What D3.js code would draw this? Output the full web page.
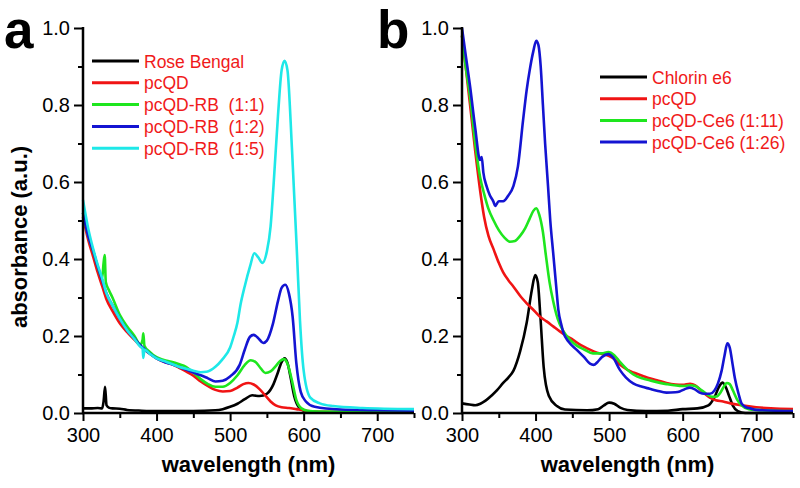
<!DOCTYPE html>
<html><head><meta charset="utf-8">
<script src="https://cdn.jsdelivr.net/npm/d3@7"></script>
<style>
html,body{margin:0;padding:0;background:#fff;}
svg{display:block;font-family:"Liberation Sans",Arial,sans-serif;}
</style></head>
<body>
<script>
// ---------- DATA ----------
const xTicks = [300, 400, 500, 600, 700];
const xMinorTicks = [350, 450, 550, 650, 750];
const yTicks = [0.0, 0.2, 0.4, 0.6, 0.8, 1.0];
const yMinorTicks = [0.1, 0.3, 0.5, 0.7, 0.9];

// Panel a
const legendA = ["Rose Bengal", "pcQD", "pcQD-RB  (1:1)", "pcQD-RB  (1:2)", "pcQD-RB  (1:5)"];
const rbWl  = [300,310,320,326,328,330,332,335,340,350,360,380,400,420,450,480,490,500,510,520,530,540,550,559,564,570,574,578,582,587,593,600,610,620,650,700,750];
const rbAbs = [0.012,0.012,0.013,0.012,0.03,0.068,0.02,0.014,0.012,0.011,0.008,0.006,0.005,0.005,0.005,0.007,0.01,0.016,0.024,0.036,0.046,0.044,0.05,0.075,0.1,0.132,0.142,0.13,0.095,0.045,0.016,0.006,0.003,0.002,0.002,0.002,0.002];

const qdAWl  = [300,307,314,320,326,332,340,350,360,370,380,390,400,410,420,430,440,450,460,470,480,490,500,510,518,525,532,540,548,555,562,570,580,590,600,615,650,750];
const qdAAbs = [0.51,0.45,0.405,0.365,0.33,0.295,0.265,0.233,0.21,0.19,0.17,0.155,0.142,0.133,0.127,0.118,0.108,0.097,0.082,0.07,0.06,0.056,0.057,0.066,0.075,0.078,0.074,0.062,0.045,0.03,0.02,0.015,0.013,0.01,0.007,0.004,0.003,0.003];

const rb11Wl  = [300,307,314,320,326,328,329.5,331,335,340,350,360,370,378,381,382,383.5,390,400,410,420,430,440,450,460,470,480,490,500,510,520,528,535,542,548,555,562,568,573,578,584,590,597,605,620,700,750];
const rb11Abs = [0.52,0.46,0.42,0.38,0.35,0.39,0.41,0.34,0.32,0.30,0.255,0.225,0.2,0.178,0.19,0.207,0.175,0.16,0.145,0.138,0.133,0.127,0.12,0.105,0.088,0.075,0.068,0.068,0.078,0.098,0.125,0.137,0.132,0.115,0.104,0.108,0.122,0.135,0.14,0.128,0.085,0.034,0.012,0.006,0.004,0.003,0.003];

const rb12Wl  = [300,307,314,320,326,332,340,350,360,370,380,390,400,410,420,430,440,450,460,470,480,490,500,513,520,527,532,538,545,550,558,565,570,575,580,585,590,596,603,615,650,700,750];
const rb12Abs = [0.52,0.46,0.42,0.38,0.345,0.31,0.28,0.245,0.215,0.193,0.172,0.155,0.142,0.133,0.127,0.12,0.113,0.105,0.098,0.09,0.082,0.084,0.095,0.125,0.165,0.198,0.203,0.195,0.182,0.188,0.23,0.29,0.325,0.333,0.31,0.25,0.13,0.055,0.03,0.016,0.009,0.007,0.006];

const rb15Wl  = [300,307,314,320,326,332,340,350,360,370,378,381,382,383.5,390,400,410,420,430,440,450,460,468,480,489,500,505,510,514,520,527,533,538,544,550,555,559,565,570,574,578,584,591,595,600,609,622,640,680,750];
const rb15Abs = [0.553,0.48,0.425,0.385,0.35,0.31,0.28,0.245,0.215,0.192,0.172,0.168,0.143,0.165,0.155,0.142,0.135,0.128,0.12,0.115,0.11,0.106,0.107,0.12,0.138,0.17,0.2,0.235,0.28,0.33,0.38,0.415,0.405,0.39,0.42,0.484,0.59,0.77,0.89,0.915,0.89,0.69,0.41,0.24,0.11,0.04,0.025,0.018,0.013,0.01];

// Panel b
const legendB = ["Chlorin e6", "pcQD", "pcQD-Ce6 (1:11)", "pcQD-Ce6 (1:26)"];
const ce6Wl  = [300,310,318,325,332,340,348,356,363,370,379,388,395,399.5,403,406.6,411,418,429,440,470,485,493,500,507,515,525,550,580,600,620,635,643,650,654,658,663,668,675,685,700,750];
const ce6Abs = [0.025,0.022,0.02,0.024,0.032,0.045,0.06,0.078,0.092,0.11,0.16,0.235,0.32,0.358,0.34,0.25,0.12,0.045,0.018,0.009,0.007,0.01,0.02,0.027,0.024,0.014,0.008,0.005,0.006,0.01,0.012,0.02,0.04,0.07,0.079,0.07,0.045,0.02,0.005,0.0,0.0,0.0];

const qdBWl  = [300,305,311,318,324.5,330,336,343,350,356,363,370,380,388,400,406,415,424,433,442,451,461,470,479,490,500,506,515,525,533,545,555,565,578,590,600,610,617,623,630,637,645,655,665,680,700,720,750];
const qdBAbs = [0.98,0.9,0.8,0.68,0.58,0.51,0.46,0.425,0.39,0.365,0.345,0.328,0.302,0.285,0.262,0.25,0.238,0.225,0.212,0.2,0.19,0.177,0.168,0.16,0.153,0.148,0.142,0.125,0.112,0.105,0.097,0.09,0.085,0.078,0.074,0.073,0.076,0.072,0.062,0.05,0.04,0.033,0.03,0.025,0.02,0.015,0.012,0.01];

const ce611Wl  = [300,305,311,318,324.5,330,336,343,350,358,365,372,379,386,392,397,401,405,410,414,419,424,430,438,447,456,466,478,490,499,507,515,525,533,545,555,578,600,610,617,623,632,640,646,652,657,660,664,668,674,680,690,700,750];
const ce611Abs = [0.98,0.9,0.82,0.7,0.614,0.57,0.53,0.5,0.475,0.455,0.445,0.447,0.46,0.48,0.505,0.525,0.532,0.515,0.47,0.41,0.34,0.29,0.245,0.212,0.19,0.175,0.165,0.155,0.155,0.158,0.15,0.132,0.112,0.1,0.09,0.085,0.075,0.07,0.072,0.07,0.063,0.05,0.042,0.043,0.055,0.072,0.078,0.075,0.06,0.035,0.02,0.01,0.008,0.005];

const ce626Wl  = [300,305,311,318,324.5,326.8,329,333.6,338,342.7,345,350,356,363,370,376,383,388,392,397,401,404,407,410,413,417,420,424,428,431,435,438,445,456,466,474,479,484,490,499,505,514.6,523,532.7,545,555,565,578,590,596,603,609.7,616,623,630,637,643,648,653,657,660.7,664,668,671,676,680,686,692,700,750];
const ce626Abs = [1.0,0.93,0.848,0.74,0.657,0.665,0.625,0.588,0.565,0.549,0.538,0.55,0.55,0.565,0.59,0.64,0.76,0.84,0.89,0.94,0.967,0.955,0.9,0.8,0.7,0.588,0.5,0.415,0.33,0.268,0.23,0.208,0.185,0.164,0.145,0.128,0.125,0.132,0.145,0.153,0.145,0.112,0.092,0.077,0.068,0.063,0.058,0.053,0.054,0.056,0.062,0.066,0.062,0.053,0.05,0.05,0.058,0.077,0.11,0.15,0.181,0.17,0.125,0.09,0.05,0.025,0.015,0.012,0.008,0.005];

// ---------- STYLE / LAYOUT ----------
const COLORS = {black:"#000000", red:"#f01414", green:"#1ee61e", blue:"#1414d2", cyan:"#1ee8e8"};
const W = 800, H = 488;
const yTop = 28, yBottom = 413;

const panels = [
  { letter:"a", x0:83, x1:414, letterX:4, yTitle:true,
    series:[
      {wl:rbWl, v:rbAbs, c:COLORS.black},
      {wl:qdAWl, v:qdAAbs, c:COLORS.red},
      {wl:rb11Wl, v:rb11Abs, c:COLORS.green},
      {wl:rb12Wl, v:rb12Abs, c:COLORS.blue},
      {wl:rb15Wl, v:rb15Abs, c:COLORS.cyan}
    ],
    legend: legendA, legX:92, legY:61, legDy:21.8 },
  { letter:"b", x0:462, x1:793, letterX:377, yTitle:false,
    series:[
      {wl:ce6Wl, v:ce6Abs, c:COLORS.black},
      {wl:qdBWl, v:qdBAbs, c:COLORS.red},
      {wl:ce611Wl, v:ce611Abs, c:COLORS.green},
      {wl:ce626Wl, v:ce626Abs, c:COLORS.blue}
    ],
    legend: legendB, legX:600, legY:77, legDy:21.7 }
];

const svg = d3.select("body").append("svg").attr("width", W).attr("height", H);
svg.append("rect").attr("width",W).attr("height",H).attr("fill","#fff");

const y = d3.scaleLinear().domain([0, 1]).range([yBottom, yTop]);

panels.forEach(p => {
  const x = d3.scaleLinear().domain([300, 750]).range([p.x0, p.x1]);
  const g = svg.append("g");

  // curves
  const line = d3.line().x(d => x(d[0])).y(d => y(d[1])).curve(d3.curveMonotoneX);
  p.series.forEach(s => {
    const pts = s.wl.map((w, i) => [w, s.v[i]]);
    g.append("path").attr("d", line(pts)).attr("fill","none")
      .attr("stroke", s.c).attr("stroke-width", 2.6).attr("stroke-linejoin","round");
  });

  // y axis
  const yAxis = d3.axisLeft(y).tickValues(yTicks).tickFormat(d3.format(".1f")).tickSize(9).tickPadding(4);
  const ya = g.append("g").attr("transform", `translate(${p.x0},0)`).call(yAxis);
  const yMinor = d3.axisLeft(y).tickValues(yMinorTicks).tickFormat("").tickSize(5);
  const ym = g.append("g").attr("transform", `translate(${p.x0},0)`).call(yMinor);
  ym.select(".domain").remove();

  // x axis
  const xAxis = d3.axisBottom(x).tickValues(xTicks).tickFormat(d3.format("d")).tickSize(8).tickPadding(7);
  const xa = g.append("g").attr("transform", `translate(0,${yBottom})`).call(xAxis);
  const xMinor = d3.axisBottom(x).tickValues(xMinorTicks).tickFormat("").tickSize(5);
  const xm = g.append("g").attr("transform", `translate(0,${yBottom})`).call(xMinor);
  xm.select(".domain").remove();

  [ya, ym, xa, xm].forEach(a => {
    a.selectAll("line").attr("stroke","#000").attr("stroke-width",2);
    a.selectAll("text").attr("font-size",20).attr("fill","#000")
      .attr("font-family","'Liberation Sans',Arial,sans-serif");
  });
  ya.select(".domain").remove();
  xa.select(".domain").remove();
  g.append("line").attr("x1",p.x0).attr("x2",p.x0).attr("y1",yTop-1).attr("y2",yBottom+1)
    .attr("stroke","#000").attr("stroke-width",2.5);
  g.append("line").attr("x1",p.x0-1).attr("x2",p.x1).attr("y1",yBottom).attr("y2",yBottom)
    .attr("stroke","#000").attr("stroke-width",2.5);

  // x title
  g.append("text").attr("x", (p.x0 + p.x1)/2).attr("y", 472).attr("text-anchor","middle")
    .attr("font-size",22).attr("font-weight","bold").text("wavelength (nm)");

  // y title
  if (p.yTitle) {
    g.append("text").attr("transform","translate(27,237) rotate(-90)").attr("text-anchor","middle")
      .attr("font-size",22).attr("font-weight","bold").text("absorbance (a.u.)");
  }

  // panel letter
  g.append("text").attr("x", p.letterX).attr("y", 48).attr("font-size",53).attr("font-weight","bold")
    .text(p.letter);

  // legend
  p.legend.forEach((lab, i) => {
    const ly = p.legY + i * p.legDy;
    g.append("line").attr("x1", p.legX).attr("x2", p.legX + 47).attr("y1", ly).attr("y2", ly)
      .attr("stroke", p.series[i].c).attr("stroke-width", 3);
    g.append("text").attr("x", p.legX + 52).attr("y", ly + 6.5).attr("font-size",17.5)
      .attr("fill","#f01a1a").attr("xml:space","preserve").style("white-space","pre").text(lab);
  });
});
</script>
</body></html>
